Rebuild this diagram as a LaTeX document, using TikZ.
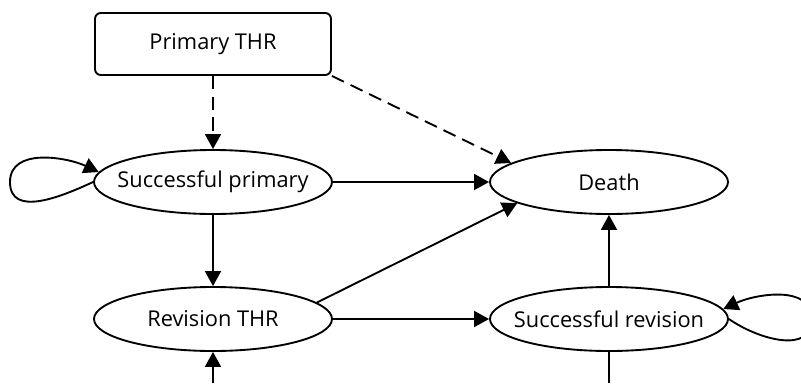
\documentclass[tikz,border=0pt]{standalone}
\usepackage{fontspec}
\setmainfont{Open Sans}
\usepackage{tikz}
\usetikzlibrary{arrows.meta,shapes.geometric}

\begin{document}
\begin{tikzpicture}[
        x=0.03cm, y=-0.03cm,
        font=\fontsize{18.6}{22}\selectfont,
        startbox/.style={draw,rounded corners=5pt,line width=1.6pt,
                         minimum width=7.08cm,minimum height=1.86cm,inner sep=0pt},
        statebox/.style={draw,ellipse,line width=1.6pt,
                         minimum width=7.14cm,minimum height=1.92cm,
                         inner xsep=-0.4cm,inner ysep=0pt},
        arr/.style={-{Triangle[length=0.45cm,width=0.48cm]}, line width=1.6pt},
        dasharr/.style={arr, dash pattern=on 0.4cm off 0.22cm}
    ]
      \useasboundingbox (0,0) rectangle (801,383);
      \clip (0,0) rectangle (801,383);
      \node[startbox] (prim) at (213,44) {Primary THR};
      \node[statebox] (succp) at (213,182) {Successful primary};
      \node[statebox] (death) at (609,182) {Death};
      \node[statebox] (rev) at (213,319) {Revision THR};
      \node[statebox] (succr) at (609,319) {Successful revision};
      \coordinate (lw) at (10,182);
      \coordinate (rw) at (812,319);
      \coordinate (botL) at (213,383);
      \coordinate (botR) at (609,383);

      \draw[dasharr] (prim.south) -- (succp.north);
      \draw[dasharr] (prim.south east) -- (death.169);
      \draw[arr] (succp.east) -- (death.west);
      \draw[arr] (succp.south) -- (rev.north);
      \draw[arr] (rev.9) -- (death.193);
      \draw[arr] (rev.east) -- (succr.west);
      \draw[arr] (succr.north) -- (death.south);
      \draw[arr] (botL) -- (rev.south);
      \draw[line width=1.6pt] (succr.south) -- (botR);
      % self loops
      \draw[arr] (succp.west) to[out=-155,in=-90,looseness=1.1] (lw) to[out=90,in=155] (succp.175);
      \draw[arr] (succr.east) to[out=-35,in=-90,looseness=1.1] (rw) to[out=90,in=25] (succr.5);
    \end{tikzpicture}
\end{document}
